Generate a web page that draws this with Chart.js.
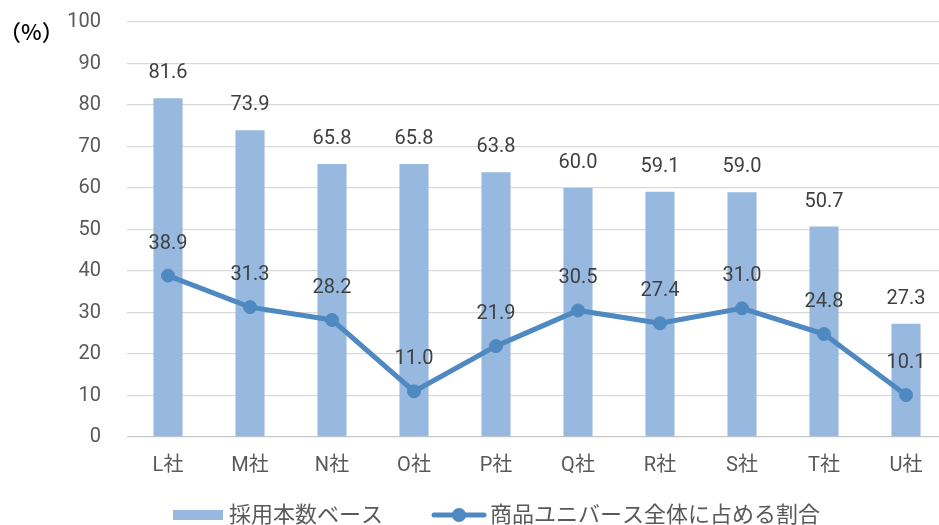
<!DOCTYPE html>
<html>
<head>
<meta charset="utf-8">
<script src="https://cdn.jsdelivr.net/npm/chart.js@4/dist/chart.umd.min.js"></script>
<style>
  html, body { margin: 0; padding: 0; background: #ffffff; }
  #wrap { width: 939px; height: 525px; overflow: hidden; position: relative; }
  canvas { display: block; }
</style>
</head>
<body>
<div id="wrap"><canvas id="c" width="960" height="525"></canvas></div>
<script>
// Companies on the category axis
const companies = ['L社', 'M社', 'N社', 'O社', 'P社', 'Q社', 'R社', 'S社', 'T社', 'U社'];
// Share based on the number of adopted funds (%)
const adoptedBase = [81.6, 73.9, 65.8, 65.8, 63.8, 60.0, 59.1, 59.0, 50.7, 27.3];
// Share of the whole product universe (%)
const universeShare = [38.9, 31.3, 28.2, 11.0, 21.9, 30.5, 27.4, 31.0, 24.8, 10.1];
// Value axis ticks
const yTicks = [0, 10, 20, 30, 40, 50, 60, 70, 80, 90, 100];
// Series names
const seriesNames = ['採用本数ベース', '商品ユニバース全体に占める割合'];
const unitLabel = '（%）';

const BAR_COLOR = '#97b9e0';
const LINE_COLOR = '#4f89c1';
const TICK_COLOR = '#595959';
const LABEL_COLOR = '#404040';
const FONT = 'Roboto, "Noto Sans CJK JP", sans-serif';

// Value labels above bars and points, unit caption and legend
const overlay = {
  id: 'overlay',
  afterDatasetsDraw(chart) {
    const ctx = chart.ctx;
    ctx.save();
    ctx.fillStyle = LABEL_COLOR;
    ctx.font = '20px ' + FONT;
    ctx.textAlign = 'center';
    ctx.textBaseline = 'middle';
    const barMeta = chart.getDatasetMeta(1);
    barMeta.data.forEach((el, i) => {
      ctx.fillText(adoptedBase[i].toFixed(1), el.x, el.y - 25);
    });
    const lineMeta = chart.getDatasetMeta(0);
    lineMeta.data.forEach((el, i) => {
      ctx.fillText(universeShare[i].toFixed(1), el.x, el.y - 32);
    });

    // unit caption
    ctx.fillStyle = '#000000';
    ctx.textAlign = 'left';
    ctx.font = '500 22px "Noto Sans CJK JP", sans-serif';
    ctx.fillText(unitLabel, -1, 32);

    // legend
    const ly = 514;
    ctx.fillStyle = BAR_COLOR;
    ctx.fillRect(173, ly - 4, 50, 10);
    ctx.fillStyle = TICK_COLOR;
    ctx.font = '22px "Noto Sans CJK JP", sans-serif';
    ctx.fillText(seriesNames[0], 229, ly);

    ctx.strokeStyle = LINE_COLOR;
    ctx.lineWidth = 5;
    ctx.lineCap = 'round';
    ctx.beginPath();
    ctx.moveTo(434, ly + 1);
    ctx.lineTo(484, ly + 1);
    ctx.stroke();
    ctx.fillStyle = LINE_COLOR;
    ctx.beginPath();
    ctx.arc(459, ly + 1, 7, 0, Math.PI * 2);
    ctx.fill();
    ctx.fillStyle = TICK_COLOR;
    ctx.fillText(seriesNames[1], 490, ly);
    ctx.restore();
  }
};

new Chart(document.getElementById('c'), {
  type: 'bar',
  data: {
    labels: companies,
    datasets: [
      {
        type: 'line',
        label: seriesNames[1],
        data: universeShare,
        borderColor: LINE_COLOR,
        backgroundColor: LINE_COLOR,
        borderWidth: 5,
        pointRadius: 6.5,
        pointHoverRadius: 6.5,
        pointBorderWidth: 1,
        pointBackgroundColor: LINE_COLOR,
        pointBorderColor: LINE_COLOR,
        tension: 0,
        order: 0
      },
      {
        type: 'bar',
        label: seriesNames[0],
        data: adoptedBase,
        backgroundColor: BAR_COLOR,
        borderWidth: 0,
        barPercentage: 0.355,
        categoryPercentage: 1.0,
        order: 1
      }
    ]
  },
  options: {
    responsive: false,
    animation: false,
    layout: { padding: { top: 22, right: 13, bottom: 0, left: 0 } },
    plugins: {
      legend: { display: false },
      tooltip: { enabled: false }
    },
    scales: {
      x: {
        grid: { display: false, drawTicks: false },
        border: { display: false },
        ticks: { color: TICK_COLOR, font: { family: FONT, size: 20 }, padding: 17, maxRotation: 0 },
        afterFit(scale) { scale.height = 88; }
      },
      y: {
        min: 0,
        max: 100,
        afterBuildTicks(scale) { scale.ticks = yTicks.map(v => ({ value: v })); },
        grid: {
          color: (c) => c.tick && c.tick.value === 0 ? '#c8c8c8' : '#d9d9d9',
          lineWidth: 1.3,
          drawTicks: false
        },
        border: { display: false },
        ticks: { color: TICK_COLOR, font: { family: FONT, size: 20 }, padding: 26 },
        afterFit(scale) {
          scale.width = 127;
          scale.paddingTop = 0;
          scale.paddingBottom = 0;
        }
      }
    }
  },
  plugins: [overlay]
});
</script>
</body>
</html>
